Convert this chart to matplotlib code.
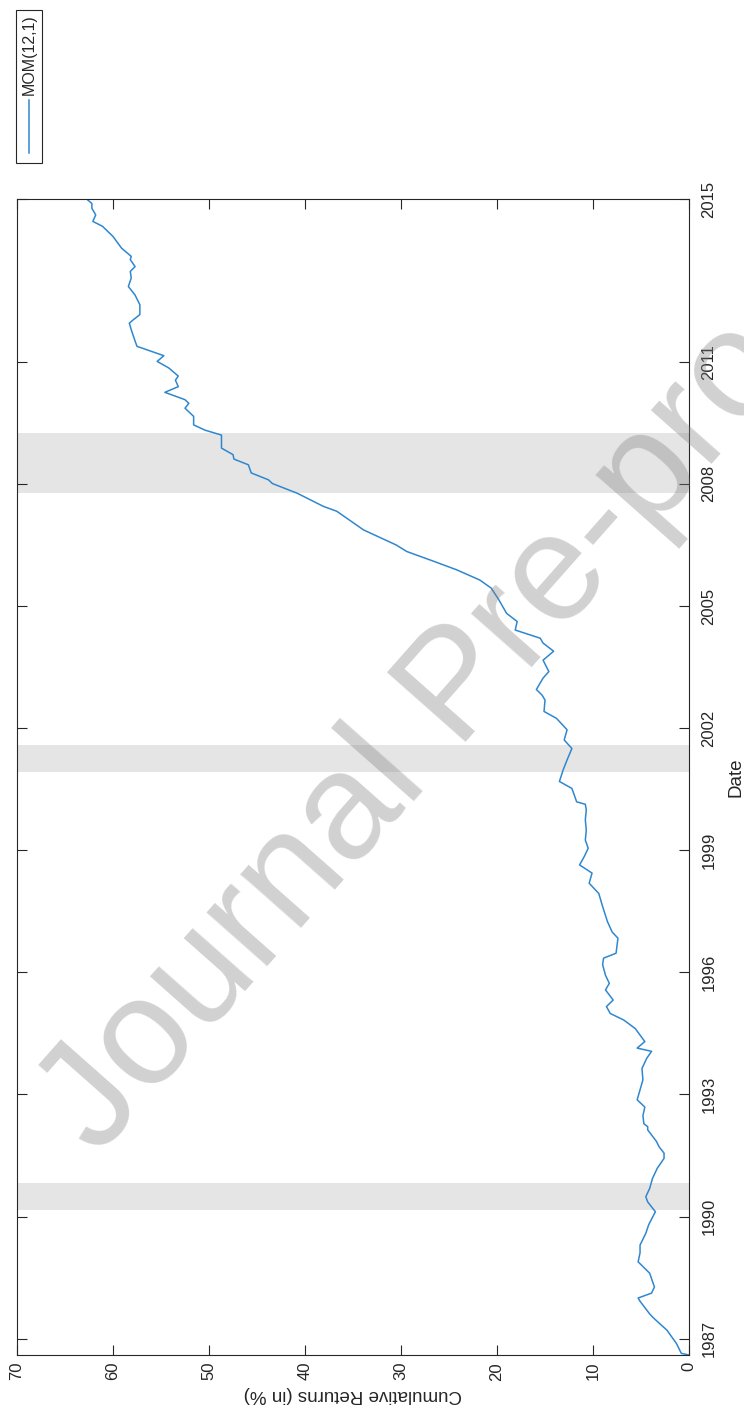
import matplotlib
matplotlib.use('Agg')
import matplotlib.pyplot as plt
from matplotlib.patches import Rectangle
from matplotlib.lines import Line2D

plt.rcParams['font.family'] = ['Liberation Sans', 'DejaVu Sans']

# ---- data ----
dates = [1986.60, 1986.64, 1986.88, 1987.21, 1987.51, 1987.61, 1987.92, 1988.00, 1988.12, 1988.27,
         1988.61, 1988.89, 1989.11, 1989.30, 1989.59, 1989.80, 1990.12, 1990.36, 1990.49, 1990.69,
         1990.94, 1991.19, 1991.43, 1991.56, 1991.71, 1991.85, 1992.13, 1992.21, 1992.28, 1992.48,
         1992.69, 1992.87, 1993.36, 1993.64, 1993.89, 1994.06, 1994.14, 1994.30, 1994.62, 1994.83,
         1994.99, 1995.16, 1995.32, 1995.57, 1995.73, 1995.93, 1996.19, 1996.35, 1996.47, 1996.84,
         1996.99, 1997.25, 1997.62, 1997.94, 1998.19, 1998.44, 1998.64, 1998.85, 1999.05, 1999.25,
         1999.49, 1999.75, 1999.99, 2000.13, 2000.19, 2000.52, 2000.69, 2000.98, 2001.22, 2001.50,
         2001.71, 2001.96, 2002.24, 2002.41, 2002.69, 2002.81, 2002.95, 2003.23, 2003.39, 2003.67,
         2003.89, 2004.09, 2004.21, 2004.41, 2004.62, 2004.82, 2005.15, 2005.44, 2005.64, 2005.89,
         2006.10, 2006.34, 2006.50, 2006.87, 2007.33, 2007.45, 2007.77, 2008.01, 2008.10, 2008.27,
         2008.47, 2008.61, 2008.72, 2008.88, 2009.20, 2009.32, 2009.45, 2009.66, 2009.86, 2009.98,
         2010.07, 2010.25, 2010.39, 2010.55, 2010.65, 2010.85, 2011.01, 2011.15, 2011.38, 2011.51,
         2011.79, 2011.95, 2012.03, 2012.16, 2012.40, 2012.64, 2012.85, 2013.06, 2013.22, 2013.34,
         2013.51, 2013.59, 2013.79, 2014.08, 2014.33, 2014.45, 2014.61, 2014.77, 2014.89, 2014.99]

mom_12_1 = [0.0, 0.8, 1.3, 2.3, 3.7, 4.1, 5.1, 5.3, 3.9, 3.6,
            4.1, 5.3, 5.1, 5.1, 4.5, 4.2, 3.5, 4.3, 4.5, 4.1,
            3.8, 3.3, 2.6, 2.6, 3.1, 3.4, 4.3, 4.3, 4.7, 4.8,
            4.6, 5.4, 4.8, 4.9, 4.4, 3.9, 5.4, 4.6, 5.6, 6.8,
            8.2, 8.6, 7.9, 8.7, 8.3, 8.7, 9.0, 8.9, 7.6, 7.4,
            8.0, 8.5, 9.0, 9.4, 10.4, 10.1, 11.4, 10.9, 10.5, 10.8,
            10.7, 10.8, 10.7, 10.8, 11.7, 12.2, 13.5, 13.1, 12.7, 12.2,
            13.0, 12.7, 13.8, 15.1, 15.0, 15.3, 15.9, 15.2, 14.6, 15.2,
            14.1, 15.2, 15.5, 18.1, 17.9, 19.0, 19.8, 20.6, 21.8, 24.2,
            26.6, 29.4, 30.5, 33.9, 36.7, 38.1, 40.8, 43.4, 43.8, 45.6,
            45.9, 47.4, 47.5, 48.7, 48.7, 50.4, 51.6, 51.6, 52.5, 52.1,
            52.5, 54.6, 53.2, 53.5, 53.2, 54.2, 55.4, 54.7, 57.5, 57.7,
            58.1, 58.3, 57.9, 57.2, 57.2, 57.7, 58.4, 58.1, 58.2, 57.7,
            58.2, 58.1, 59.1, 60.0, 61.1, 62.1, 61.8, 62.2, 62.2, 62.7]

recession_start = [1990.16, 2000.92, 2007.78]
recession_end = [1990.83, 2001.59, 2009.25]

return_ticks = [0, 10, 20, 30, 40, 50, 60, 70]
date_ticks = [1987, 1990, 1993, 1996, 1999, 2002, 2005, 2008, 2011, 2015]
date_ticklabels = ['1987', '1990', '1993', '1996', '1999', '2002', '2005', '2008', '2011', '2015']

series_name = 'MOM(12,1)'

# ---- figure ----
W, H = 744, 1411
fig = plt.figure(figsize=(W / 100, H / 100), dpi=100)
ax = fig.add_axes([17 / W, 56 / H, (689 - 17) / W, (1355 - 199) / H])

for s, e in zip(recession_start, recession_end):
    ax.axhspan(s, e, color='#e5e5e5', lw=0, zorder=0)

line_color = '#2F87CF'
ax.plot(mom_12_1, dates, color=line_color, lw=1.1, zorder=2)

ax.set_xlim(70, 0)
ax.set_ylim(1986.6, 2015.0)
ax.set_xticks(return_ticks)
ax.set_yticks(date_ticks)
ax.set_yticklabels(date_ticklabels)

for sp in ax.spines.values():
    sp.set_color('#262626')
    sp.set_linewidth(0.8)

ax.tick_params(axis='both', direction='in', length=7, width=0.8, colors='#262626',
               top=True, bottom=True, left=True, right=True, labelsize=12)
ax.tick_params(axis='x', labelrotation=90, pad=5)
ax.tick_params(axis='y', labelrotation=90, labelleft=False, labelright=True, pad=9)
for lab in ax.get_yticklabels():
    lab.set_verticalalignment('center')

ax.set_xlabel('Cumulative Returns (in %)', rotation=180, fontsize=13.5, color='#262626', labelpad=4)
ax.yaxis.set_label_position('right')
ax.set_ylabel('Date', rotation=90, fontsize=13.5, color='#262626', labelpad=8, va='top')

# ---- legend (rotated, drawn by hand) ----
fig.patches.append(Rectangle((16 / W, 1 - 163 / H), 26 / W, 153 / H, transform=fig.transFigure,
                             facecolor='white', edgecolor='#262626', lw=0.8))
fig.lines.append(Line2D([29 / W, 29 / W], [1 - 100 / H, 1 - 153 / H], transform=fig.transFigure,
                        color=line_color, lw=1.1))
fig.text(29.5 / W, 1 - 55 / H, series_name, rotation=90, ha='center', va='center',
         fontsize=11.5, color='#262626')

# ---- watermark ----
fig.text(98 / W, 1 - 1158 / H, 'Journal Pre-proof', rotation=48.5, rotation_mode='anchor',
         ha='left', va='baseline', fontsize=110, color='#808080', alpha=0.36, zorder=10)

fig.savefig('out.png', dpi=100)
